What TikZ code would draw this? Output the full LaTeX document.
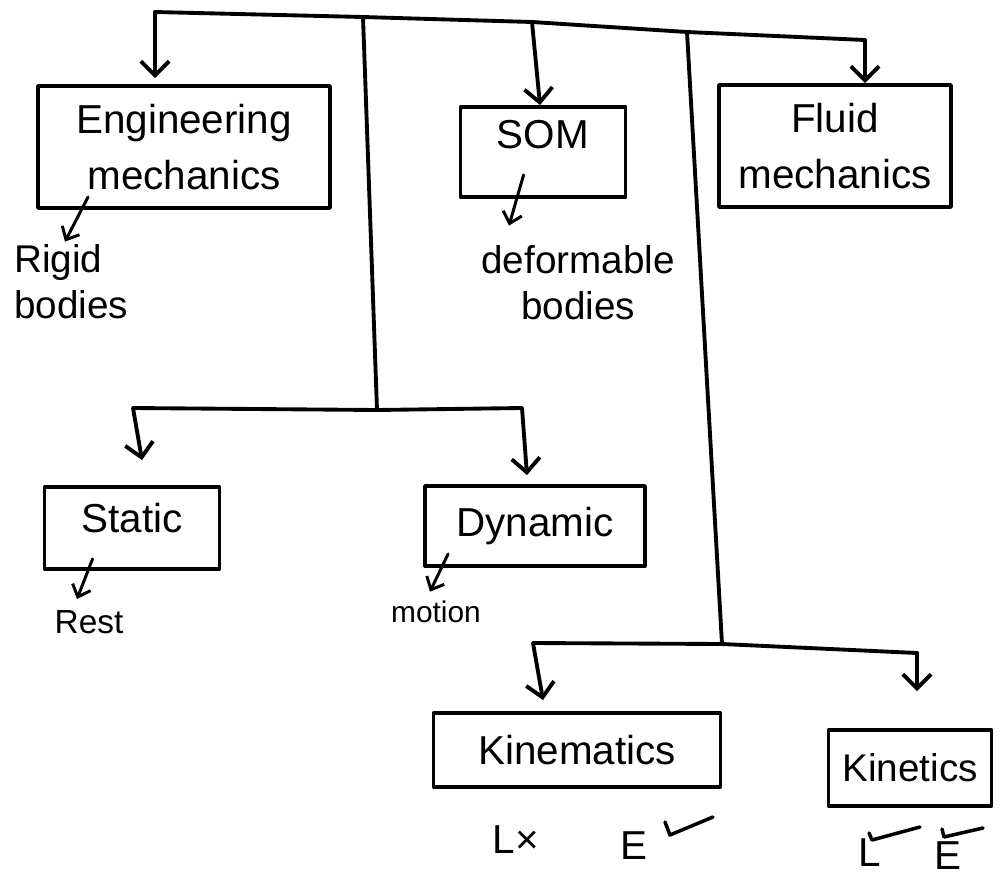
\documentclass[tikz,border=0pt]{standalone}
\usepackage{fontspec}
\setmainfont{Liberation Sans}
\usetikzlibrary{arrows.meta,calc}
\begin{document}
\begin{tikzpicture}[x=0.02cm,y=-0.02cm,
  ink/.style={line width=2.2pt,line cap=round,line join=round},
  arr/.style={ink,-{Straight Barb[length=8pt,width=16pt,line width=2.2pt]}},
  sarr/.style={line width=1.7pt,line cap=round,-{Straight Barb[length=6pt,width=11pt,line width=1.7pt]}},
  box/.style={draw,ink,rectangle,inner sep=0pt,align=center,font=\fontsize{23}{32}\selectfont},
  lbl/.style={inner sep=0pt,font=\fontsize{22}{26}\selectfont},
  small/.style={inner sep=0pt,font=\fontsize{19}{22}\selectfont},
  letter/.style={inner sep=0pt,font=\fontsize{23}{27}\selectfont},
  tick/.style={line width=2pt,line cap=round,line join=round}]
\useasboundingbox (0,0) rectangle (1005,880);

% boxes
\node[box,minimum width=5.84cm,minimum height=2.44cm] (em) at (184,147) {Engineering\\mechanics};
\node[box,minimum width=3.3cm,minimum height=1.8cm] (som) at (543,152) {\raisebox{0.34cm}[\height][\depth]{SOM}};
\node[box,minimum width=4.64cm,minimum height=2.44cm] (fm) at (835,146) {Fluid\\mechanics};
\node[box,minimum width=3.5cm,minimum height=1.64cm] (st) at (132,528) {\raisebox{0.2cm}[\height][\depth]{Static}};
\node[box,minimum width=4.4cm,minimum height=1.6cm] (dy) at (535,526) {Dynamic};
\node[box,minimum width=5.74cm,minimum height=1.48cm] (km) at (577,750) {Kinematics};
\node[box,minimum width=3.26cm,minimum height=1.52cm,font=\fontsize{22}{26}\selectfont] (kt) at (910,768) {Kinetics};

% labels
\node[lbl,anchor=west,align=left] (rigid) at (14,282) {Rigid\\bodies};
\node[lbl,align=center] (deform) at (578,283) {deformable\\bodies};
\node[small] (rest) at (89,622) {Rest};
\node[small,font=\fontsize{17}{20}\selectfont] (motion) at (436,612) {motion};
\node[letter] (lx) at (516,840) {L×};
\node[letter] (e1) at (634,846) {E};
\node[letter] (l2) at (870,853) {L};
\node[letter] (e2) at (948,856) {E};

% top distribution line
\coordinate (t1) at (155,12);
\coordinate (t2) at (363,17);
\coordinate (t3) at (532,22);
\coordinate (t4) at (687,32);
\coordinate (t5) at (865,40);
\draw[ink] (t1) -- (t2) -- (t3) -- (t4) -- (t5);
\draw[arr,shorten >=6*0.02cm] (t1) -- (t1 |- em.north);
\draw[arr] (t3) -- ($(som.north)+(-3,0)$);
\draw[arr] (t5) -- (t5 |- fm.north);

% static / dynamic branch
\coordinate (s0) at (377,410);
\coordinate (s1) at (133,408);
\coordinate (s2) at (522,408);
\draw[ink] (t2) -- (s0);
\draw[ink] (s1) -- (s0) -- (s2);
\draw[arr] (s1) -- ($(st.north)+(10,-25)$);
\draw[arr] (s2) -- ($(dy.north)+(-8,-9)$);

% kinematics / kinetics branch
\coordinate (k0) at (722,644);
\coordinate (k1) at (533,643);
\coordinate (k2) at (917,653);
\draw[ink] (t4) -- (k0);
\draw[ink] (k1) -- (k0) -- (k2);
\draw[arr] (k1) -- ($(km.north)+(-34,-11)$);
\draw[arr] (k2) -- ($(kt.north)+(7,-37)$);

% small arrows to descriptions
\draw[sarr] ($(em.south west)+(52,-13)$) -- ($(rigid.north west)+(51,-3)$);
\draw[sarr] ($(som.south west)+(65,-24)$) -- ($(deform.north)+(-69,-20)$);
\draw[sarr] ($(st.south west)+(50,-12)$) -- ($(rest.north)+(-12,-11)$);
\draw[sarr] ($(dy.south west)+(25,-14)$) -- ($(motion.north)+(-6,-9)$);

% check marks
\draw[tick] ($(e1)+(31,-24)$) -- ($(e1)+(36,-11)$) -- ($(e1)+(79,-29)$);
\draw[tick] ($(l2)+(-1,-20)$) -- ($(l2)+(2,-13)$) -- ($(l2)+(50,-26)$);
\draw[tick] ($(e2)+(-6,-27)$) -- ($(e2)+(-4,-19)$) -- ($(e2)+(35,-28)$);
\end{tikzpicture}
\end{document}
